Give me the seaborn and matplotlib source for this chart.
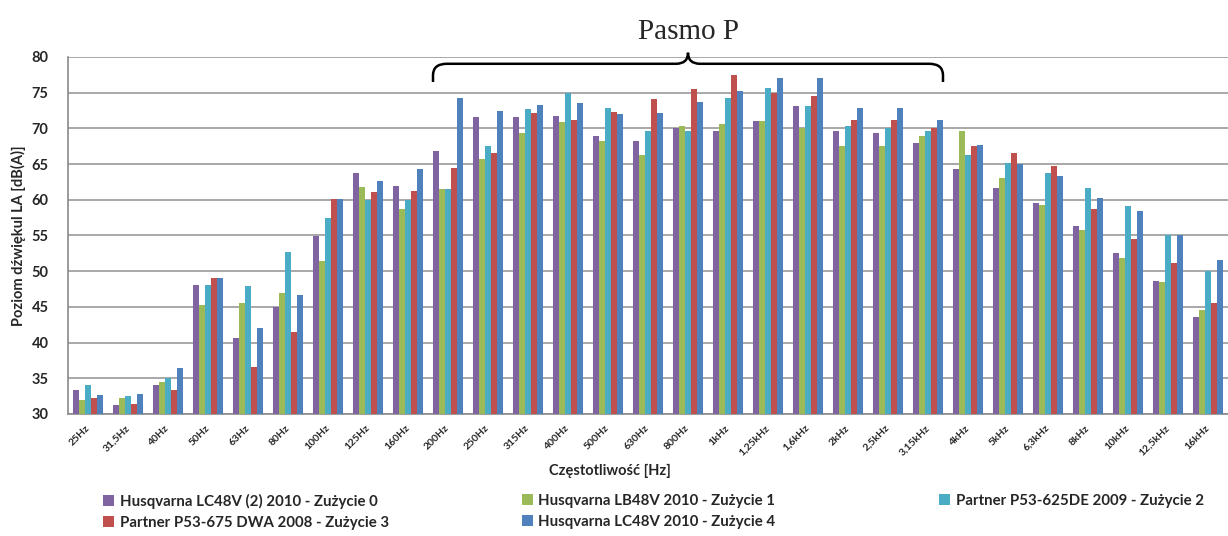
import numpy as np
import pandas as pd
import matplotlib
matplotlib.use("Agg")
import matplotlib.pyplot as plt
from matplotlib.path import Path
from matplotlib.patches import PathPatch
import seaborn as sns

categories = ["25Hz", "31,5Hz", "40Hz", "50Hz", "63Hz", "80Hz", "100Hz", "125Hz", "160Hz",
              "200Hz", "250Hz", "315Hz", "400Hz", "500Hz", "630Hz", "800Hz", "1kHz",
              "1,25kHz", "1,6kHz", "2kHz", "2,5kHz", "3,15kHz", "4kHz", "5kHz", "6,3kHz",
              "8kHz", "10kHz", "12,5kHz", "16kHz"]

series_names = ["Husqvarna LC48V (2) 2010 - Zużycie 0",
                "Husqvarna LB48V 2010 - Zużycie 1",
                "Partner P53-625DE 2009 - Zużycie 2",
                "Partner P53-675 DWA 2008 - Zużycie 3",
                "Husqvarna LC48V 2010 - Zużycie 4"]

s0 = [33.4, 31.2, 34.0, 48.1, 40.6, 45.0, 54.9, 63.7, 61.9, 66.9, 71.6, 71.6, 71.7, 68.9, 68.2,
      70.0, 69.6, 71.1, 73.1, 69.7, 69.4, 67.9, 64.3, 61.7, 59.6, 56.3, 52.5, 48.6, 43.6]
s1 = [32.0, 32.3, 34.5, 45.3, 45.5, 46.9, 51.4, 61.8, 58.7, 61.5, 65.7, 69.3, 70.9, 68.2, 66.3,
      70.4, 70.6, 71.1, 70.0, 67.5, 67.6, 68.9, 69.6, 63.1, 59.3, 55.8, 51.8, 48.5, 44.5]
s2 = [34.1, 32.5, 35.0, 48.1, 47.9, 52.7, 57.4, 60.0, 60.0, 61.5, 67.5, 72.7, 75.0, 72.9, 69.7,
      69.7, 74.3, 75.6, 73.2, 70.4, 70.0, 69.6, 66.3, 65.2, 63.7, 61.7, 59.1, 55.0, 50.0]
s3 = [32.3, 31.4, 33.3, 49.0, 36.6, 41.5, 60.1, 61.1, 61.2, 64.5, 66.5, 72.1, 71.2, 72.3, 74.1,
      75.5, 77.5, 75.0, 74.5, 71.2, 71.2, 70.0, 67.6, 66.6, 64.7, 58.7, 54.5, 51.2, 45.6]
s4 = [32.6, 32.8, 36.5, 49.0, 42.0, 46.7, 60.1, 62.7, 64.3, 74.2, 72.4, 73.3, 73.6, 72.0, 72.1,
      73.7, 75.2, 77.1, 77.1, 72.8, 72.8, 71.2, 67.7, 65.0, 63.3, 60.2, 58.4, 55.1, 51.5]

colors = ["#8064A2", "#9BBB59", "#4BACC6", "#C0504D", "#4F81BD"]

yticks = [30, 35, 40, 45, 50, 55, 60, 65, 70, 75, 80]

band_start, band_end = "200Hz", "3,15kHz"

rows = []
for name, vals in zip(series_names, [s0, s1, s2, s3, s4]):
    for c, v in zip(categories, vals):
        rows.append({"freq": c, "val": v, "series": name})
df = pd.DataFrame(rows)

sns.set_style("white")
plt.rcParams["font.family"] = ["Lato", "DejaVu Sans"]

W, H = 1228, 536
fig = plt.figure(figsize=(W / 100, H / 100), dpi=100)
ax = fig.add_axes([68 / W, 1 - 414 / H, 1160 / W, 357 / H])

sns.barplot(data=df, x="freq", y="val", hue="series", order=categories,
            hue_order=series_names, palette=colors, width=0.75, gap=0,
            saturation=1, ax=ax, linewidth=0, zorder=3)

handles, labels = ax.get_legend_handles_labels()
if ax.get_legend() is not None:
    ax.get_legend().remove()

ax.set_ylim(30, 80)
ax.set_xlim(-0.5, len(categories) - 0.5)
ax.set_yticks(yticks)
ax.yaxis.grid(True, color="#9a9a9a", linewidth=1.2, zorder=0)
ax.set_axisbelow(True)
for side in ["top", "right"]:
    ax.spines[side].set_visible(False)
for side in ["left", "bottom"]:
    ax.spines[side].set_color("#8a8a8a")
    ax.spines[side].set_linewidth(1.2)
ax.tick_params(axis="y", length=0, pad=14, labelsize=10.5)
for t in ax.get_yticklabels():
    t.set_fontweight("bold")
ax.tick_params(axis="x", length=0, pad=9)
ax.set_xticks(range(len(categories)))
ax.set_xticklabels(categories, rotation=45, ha="right", va="center",
                   rotation_mode="anchor", fontsize=7.5, fontweight="bold")
ax.set_xlabel("")
ax.set_ylabel("")

fig.text(18 / W, 1 - 236 / H, "Poziom dźwiękul LA [dB(A)]", rotation=90,
         ha="center", va="center", fontsize=10.5, fontweight="bold")
fig.text(610 / W, 1 - 471 / H, "Częstotliwość [Hz]", ha="center", va="center",
         fontsize=10.5, fontweight="bold")

# brace over band
L = categories.index(band_start) - 0.375
R = categories.index(band_end) + 0.375
T = (L + R) / 2
yh, yb, yt = 79.05, 76.5, 80.6
rx, ry = 0.35, 1.6
verts = [(L, yb), (L, yh - ry), (L, yh), (L + rx, yh),
         (T - 0.3, yh), (T, yh), (T, yt),
         (T, yh), (T + 0.3, yh),
         (R - rx, yh), (R, yh), (R, yh - ry), (R, yb)]
codes = [Path.MOVETO, Path.LINETO, Path.CURVE3, Path.CURVE3,
         Path.LINETO, Path.CURVE3, Path.CURVE3,
         Path.CURVE3, Path.CURVE3,
         Path.LINETO, Path.CURVE3, Path.CURVE3, Path.LINETO]
brace = PathPatch(Path(verts, codes), facecolor="none", edgecolor="black",
                  linewidth=1.8, clip_on=False, transform=ax.transData, zorder=6)
ax.add_patch(brace)
ax.text(T, 83.5, "Pasmo P", ha="center", va="center", fontsize=21,
        family=["Liberation Serif", "DejaVu Serif"], clip_on=False)

# legend in three columns
col_x = [103, 522, 939]
layout = [[0, 3], [1, 4], [2]]
for cx, idxs in zip(col_x, layout):
    fig.legend([handles[i] for i in idxs], [labels[i] for i in idxs],
               loc="upper left", bbox_to_anchor=(cx / W, 1 - 494 / H),
               frameon=False, handlelength=0.75, handleheight=0.75,
               handletextpad=0.35, borderpad=0, borderaxespad=0,
               labelspacing=0.45,
               prop={"family": ["Lato", "DejaVu Sans"], "weight": "bold", "size": 10.8})

fig.savefig("out.png", dpi=100)
